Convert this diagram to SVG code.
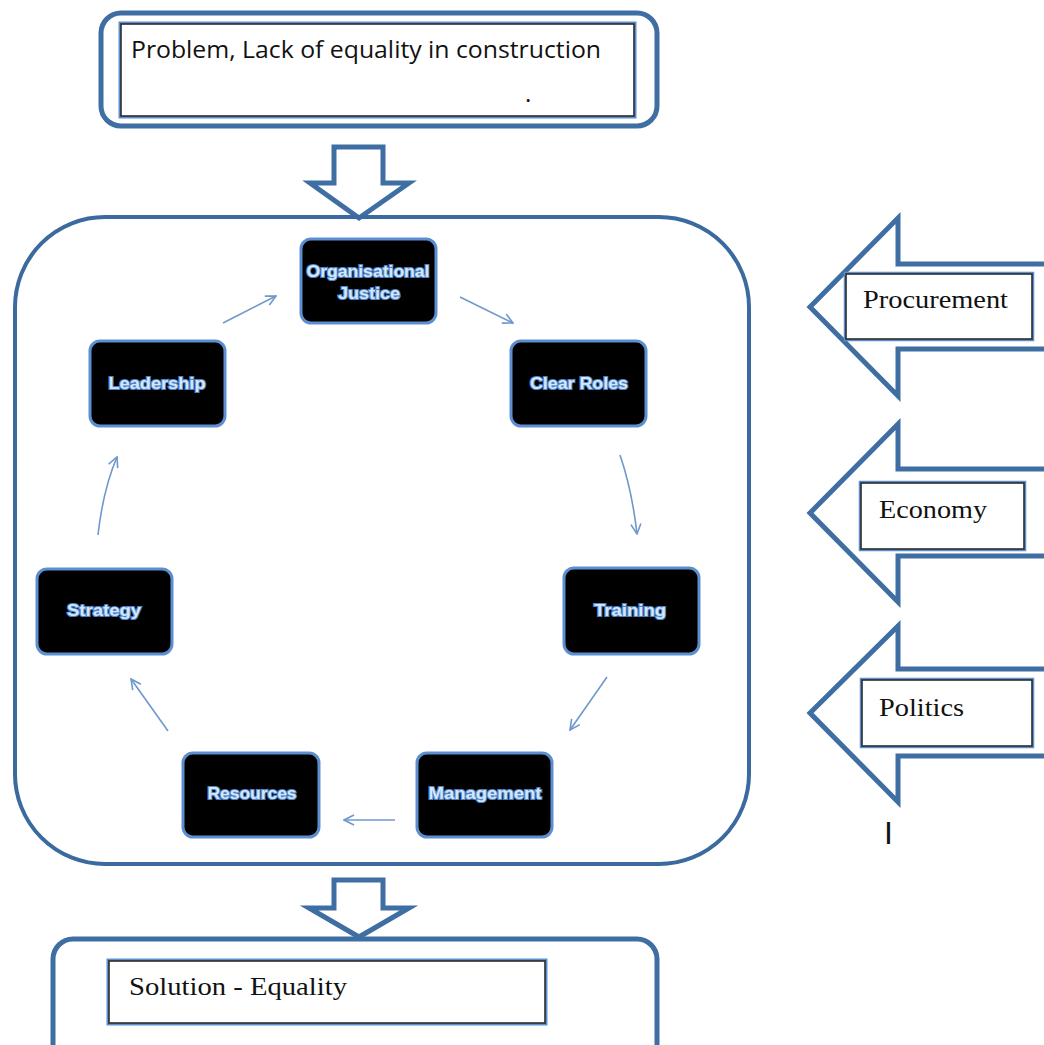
<svg xmlns="http://www.w3.org/2000/svg" width="1044" height="1045" viewBox="0 0 1044 1045">
<style>
.outer{fill:#fff;stroke:#3f6ea3;stroke-width:5}
.inner{fill:#fff;stroke:#2b2b2b;stroke-width:1.6}
.blk{fill:#fff;stroke:#3f6ea3;stroke-width:5;stroke-linejoin:miter}
.node{fill:#000;stroke:#5b8fd0;stroke-width:3}
.nt{font-family:"Liberation Sans",Arial,sans-serif;font-weight:bold;font-size:16.5px;fill:#d6e6fa;stroke:#4d84c8;stroke-width:2.2;paint-order:stroke;text-anchor:middle}
.sans{font-family:"Open Sans","Liberation Sans",sans-serif;font-size:24px;fill:#111}
.serif{font-family:"Liberation Serif","Times New Roman",serif;font-size:26px;fill:#111}
.con{fill:none;stroke:#6f98cc;stroke-width:1.6;marker-end:url(#ah)}
</style>
<defs>
<marker id="ah" viewBox="0 0 12 12" refX="11" refY="6" markerWidth="12" markerHeight="12" markerUnits="userSpaceOnUse" orient="auto">
<path d="M1,1 L11,6 L1,11" fill="none" stroke="#6f98cc" stroke-width="1.6"/>
</marker>
</defs>
<rect width="1044" height="1045" fill="#fff"/>

<g id="problem">
<rect class="outer" x="101" y="13" width="556" height="113" rx="20"/>
<rect x="120" y="23" width="515" height="94" fill="none" stroke="#5b8fd0" stroke-width="3"/>
<rect class="inner" x="121" y="24" width="513" height="92"/>
<text class="sans" x="131" y="58" textLength="470" lengthAdjust="spacingAndGlyphs">Problem, Lack of equality in construction</text>
<text class="sans" x="525" y="102" font-size="10">.</text>
</g>

<g id="arrow-down-1">
<path class="blk" d="M334,147 L383,147 L383,183 L409,183 L359,218 L310,183 L334,183 Z"/>
</g>

<g id="cycle-frame">
<rect x="15" y="217" width="734" height="647" rx="90" fill="none" stroke="#3a6a9e" stroke-width="4"/>
</g>

<g id="n-orgjustice">
<rect class="node" x="301" y="239" width="135" height="84" rx="10"/>
<text class="nt" x="368" y="277" textLength="123" lengthAdjust="spacingAndGlyphs">Organisational</text>
<text class="nt" x="369" y="299" textLength="62" lengthAdjust="spacingAndGlyphs">Justice</text>
</g>
<g id="n-clearroles">
<rect class="node" x="511" y="341" width="135" height="85" rx="10"/>
<text class="nt" x="579" y="389" textLength="98" lengthAdjust="spacingAndGlyphs">Clear Roles</text>
</g>
<g id="n-training">
<rect class="node" x="564" y="568" width="135" height="86" rx="10"/>
<text class="nt" x="630" y="616" textLength="72" lengthAdjust="spacingAndGlyphs">Training</text>
</g>
<g id="n-management">
<rect class="node" x="417" y="753" width="135" height="84" rx="10"/>
<text class="nt" x="485" y="799" textLength="113" lengthAdjust="spacingAndGlyphs">Management</text>
</g>
<g id="n-resources">
<rect class="node" x="183" y="753" width="136" height="84" rx="10"/>
<text class="nt" x="252" y="799" textLength="89" lengthAdjust="spacingAndGlyphs">Resources</text>
</g>
<g id="n-strategy">
<rect class="node" x="37" y="569" width="135" height="85" rx="10"/>
<text class="nt" x="104" y="616" textLength="74" lengthAdjust="spacingAndGlyphs">Strategy</text>
</g>
<g id="n-leadership">
<rect class="node" x="90" y="341" width="135" height="85" rx="10"/>
<text class="nt" x="157" y="389" textLength="97" lengthAdjust="spacingAndGlyphs">Leadership</text>
</g>

<g id="connectors">
<path class="con" d="M223,323 L276,296"/>
<path class="con" d="M460,297 L513,323"/>
<path class="con" d="M620,455 Q632,490 637,534"/>
<path class="con" d="M607,677 L570,730"/>
<path class="con" d="M395,820 L344,820"/>
<path class="con" d="M168,731 L131,679"/>
<path class="con" d="M98,535 Q103,490 117,457"/>
</g>

<g id="procurement">
<path class="blk" d="M1050,264 L898,264 L898,218 L810,307 L898,396 L898,349 L1050,349"/>
<rect x="845" y="273" width="188" height="67" fill="#fff" stroke="#5b8fd0" stroke-width="2.5"/>
<rect class="inner" x="846" y="274" width="186" height="65"/>
<text class="serif" x="863" y="308" textLength="145" lengthAdjust="spacingAndGlyphs">Procurement</text>
</g>

<g id="economy">
<path class="blk" d="M1050,469 L898,469 L898,424 L810,513 L898,602 L898,556 L1050,556"/>
<rect x="860" y="482" width="165" height="68" fill="#fff" stroke="#5b8fd0" stroke-width="2.5"/>
<rect class="inner" x="861" y="483" width="163" height="66"/>
<text class="serif" x="879" y="518" textLength="108" lengthAdjust="spacingAndGlyphs">Economy</text>
</g>

<g id="politics">
<path class="blk" d="M1050,669 L898,669 L898,626 L810,713 L898,802 L898,756 L1050,756"/>
<rect x="861" y="679" width="172" height="68" fill="#fff" stroke="#5b8fd0" stroke-width="2.5"/>
<rect class="inner" x="862" y="680" width="170" height="66"/>
<text class="serif" x="879" y="716" textLength="85" lengthAdjust="spacingAndGlyphs">Politics</text>
</g>

<text x="884" y="844" font-family="Liberation Sans,Arial,sans-serif" font-size="32" fill="#111">I</text>

<g id="arrow-down-2">
<path class="blk" d="M334,880 L383,880 L383,908 L409,908 L359,937 L309,908 L334,908 Z"/>
</g>

<g id="solution">
<rect class="outer" x="53" y="939" width="604" height="125" rx="20"/>
<rect x="108" y="960" width="438" height="64" fill="none" stroke="#5b8fd0" stroke-width="3"/>
<rect class="inner" x="109" y="961" width="436" height="62"/>
<text class="serif" x="129" y="995" textLength="218" lengthAdjust="spacingAndGlyphs">Solution - Equality</text>
</g>
</svg>
